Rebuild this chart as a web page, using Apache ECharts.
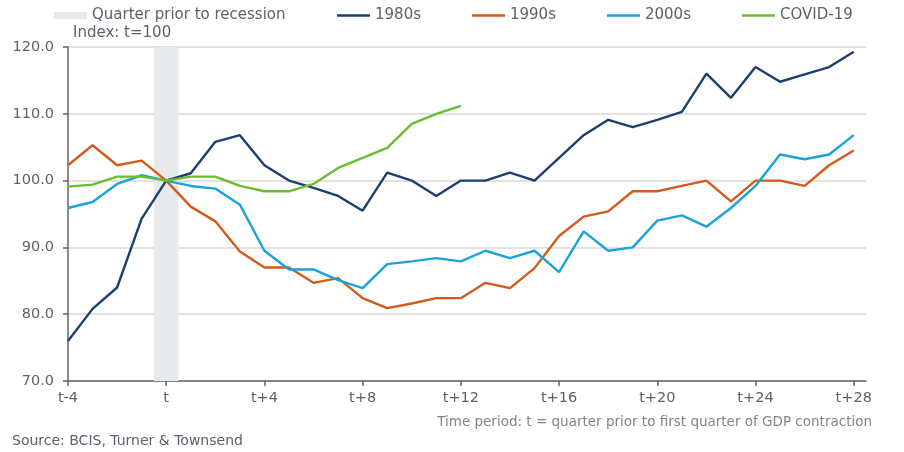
<!DOCTYPE html>
<html>
<head>
<meta charset="utf-8">
<script src="https://cdn.jsdelivr.net/npm/echarts@6/dist/echarts.min.js"></script>
<style>html,body{margin:0;padding:0;background:#fff}#c{width:904px;height:452px}</style>
</head>
<body>
<div id="c"></div>
<script>
const quarters = [-4,-3,-2,-1,0,1,2,3,4,5,6,7,8,9,10,11,12,13,14,15,16,17,18,19,20,21,22,23,24,25,26,27,28];
const tickValues = [-4,0,4,8,12,16,20,24,28];
const tickLabels = ['t-4','t','t+4','t+8','t+12','t+16','t+20','t+24','t+28'];
const s1980 = [76.0,80.8,84.0,94.3,100,101.1,105.8,106.8,102.3,100.0,98.9,97.7,95.5,101.2,100.0,97.7,100,100,101.2,100,103.4,106.8,109.1,108.0,109.1,110.3,116.0,112.4,117.0,114.8,115.9,117.0,119.3];
const s1990 = [102.3,105.3,102.3,103.0,100,96.1,93.9,89.4,87.0,87.0,84.7,85.4,82.4,80.9,81.6,82.4,82.4,84.7,83.9,86.9,91.7,94.6,95.4,98.4,98.4,99.2,100.0,96.9,100.0,100.0,99.2,102.3,104.5];
const s2000 = [95.9,96.8,99.5,100.8,100,99.2,98.8,96.4,89.5,86.7,86.7,85.1,83.9,87.5,87.9,88.4,87.9,89.5,88.4,89.5,86.3,92.4,89.5,90.0,94.0,94.8,93.1,95.9,99.2,103.9,103.2,103.9,106.8];
const sCovid = [99.1,99.4,100.6,100.6,100,100.6,100.6,99.2,98.4,98.4,99.5,101.9,103.4,104.9,108.5,110.0,111.2];
const bandRange = [-0.5, 0.5];
const names = ['Quarter prior to recession','1980s','1990s','2000s','COVID-19'];

const pair = arr => arr.map((v,i)=>[quarters[i], v]);
const txt = '#5b626b';
const font = 'DejaVu Sans';
const axisCol = '#5e6670';
const bandCol = '#e8e9eb';
const chart = echarts.init(document.getElementById('c'));
const lineSeries = (name, data, color) => ({
  name, type:'line', data: pair(data), symbol:'none', z:3,
  lineStyle:{color, width:2.4}, itemStyle:{color}
});
const s80 = lineSeries(names[1], s1980, '#1d3f6e');
s80.markArea = {silent:true, label:{show:false}, emphasis:{disabled:true}, itemStyle:{color:bandCol}, z:1,
  data:[[{xAxis:bandRange[0], yAxis:70},{xAxis:bandRange[1], yAxis:120}]]};
chart.setOption({
  animation:false,
  textStyle:{fontFamily:font},
  grid:{left:68,right:38,top:47,bottom:71,containLabel:false},
  legend:[
    {
      left:49, top:3, itemWidth:33, itemHeight:7, icon:'rect',
      textStyle:{color:txt,fontSize:15,fontFamily:font},
      data:[{name:names[0], itemStyle:{color:bandCol}}]
    },
    {
      left:332, top:3, itemWidth:33, itemHeight:2.4, itemGap:51, icon:'rect',
      textStyle:{color:txt,fontSize:15,fontFamily:font},
      data:[names[1],names[2],names[3],names[4]]
    }
  ],
  xAxis:{
    type:'value', min:-4, max:28.5, interval:4,
    axisLine:{onZero:false,lineStyle:{color:axisCol,width:1.5}},
    axisTick:{show:true,length:5,lineStyle:{color:axisCol,width:1.5},customValues:tickValues},
    axisLabel:{color:txt,fontSize:14.5,margin:10,fontFamily:font,customValues:tickValues,
      formatter:v=>{const k=tickValues.indexOf(v);return k>=0?tickLabels[k]:'';}},
    splitLine:{show:false}
  },
  yAxis:{
    type:'value', min:70, max:120, interval:10,
    axisLine:{show:true,onZero:false,lineStyle:{color:axisCol,width:1.5}},
    axisTick:{show:true,length:5,lineStyle:{color:axisCol,width:1.5}},
    axisLabel:{color:txt,fontSize:14.5,margin:14,fontFamily:font,formatter:v=>v.toFixed(1)},
    splitLine:{lineStyle:{color:'#d9d9d9',width:1.5}}
  },
  graphic:[
    {type:'text',x:73,y:33,style:{text:'Index: t=100',fill:txt,fontSize:15,fontFamily:font,verticalAlign:'middle'}},
    {type:'text',x:872,y:422,style:{text:'Time period: t = quarter prior to first quarter of GDP contraction',fill:'#80858c',fontSize:13.5,fontFamily:font,align:'right',verticalAlign:'middle'}},
    {type:'text',x:12,y:441,style:{text:'Source: BCIS, Turner & Townsend',fill:txt,fontSize:14,fontFamily:font,verticalAlign:'middle'}}
  ],
  series:[
    {name:names[0], type:'line', data:[], itemStyle:{color:bandCol}},
    s80,
    lineSeries(names[2], s1990, '#d45a1a'),
    lineSeries(names[3], s2000, '#1ba3dc'),
    lineSeries(names[4], sCovid, '#6cbd2e')
  ]
});
</script>
</body>
</html>
